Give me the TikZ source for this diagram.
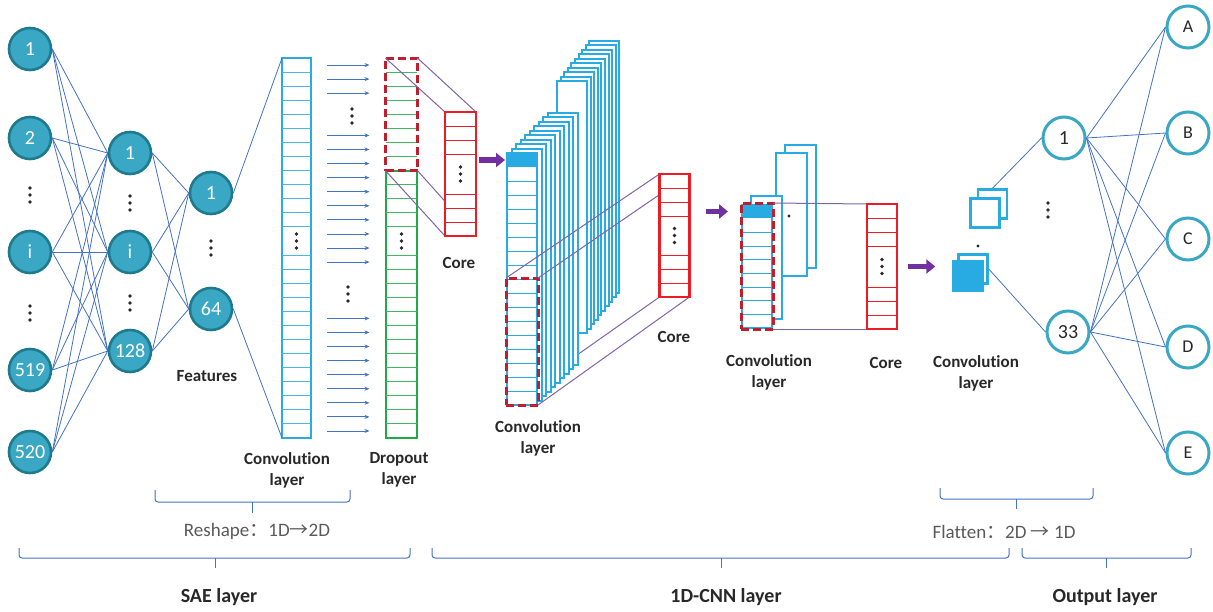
\documentclass[tikz,border=0pt]{standalone}
\usepackage{fontspec}
\setmainfont{Carlito}[Ligatures=NoCommon]
\newfontfamily\cjkfont{Noto Sans CJK SC}
\usepackage{xcolor}
\usepackage{tikz}
\usetikzlibrary{arrows.meta, positioning, calc}

\definecolor{saefill}{RGB}{58,168,196}
\definecolor{saeedge}{RGB}{30,122,140}
\definecolor{linkblue}{RGB}{68,114,196}
\definecolor{mapblue}{RGB}{40,170,226}
\definecolor{dropgreen}{RGB}{30,170,70}
\definecolor{corered}{RGB}{236,28,36}
\definecolor{cropred}{RGB}{190,30,45}
\definecolor{pushpurple}{RGB}{112,48,160}
\definecolor{projpurple}{RGB}{128,100,168}
\definecolor{txtgray}{RGB}{40,40,40}
\definecolor{notegray}{RGB}{90,90,90}

\pgfdeclarelayer{hidden}
\pgfdeclarelayer{lines}
\pgfdeclarelayer{top}
\pgfsetlayers{hidden,main,lines,top}

\begin{document}
\begin{tikzpicture}[
  x=1pt, y=-1pt,
  font=\fontsize{17}{21}\selectfont,
  saenode/.style={
    circle,
    draw=saeedge,
    fill=saefill,
    line width=2.6pt,
    minimum size=42pt,
    inner sep=0pt,
    text=white,
    font=\fontsize{20}{20}\selectfont
  },
  outnode/.style={
    circle,
    draw=saefill,
    fill=white,
    line width=3pt,
    minimum size=42pt,
    inner sep=0pt,
    text=txtgray,
    font=\fontsize{#1}{#1}\selectfont
  },
  outnode/.default=18,
  link/.style={draw=linkblue, line width=0.8pt},
  column/.style={
    rectangle,
    draw=#1,
    fill=white,
    line width=2pt,
    inner sep=0pt,
    outer sep=0pt
  },
  cell/.style={draw=#1, line width=0.9pt},
  crop/.style={
    rectangle,
    draw=cropred,
    line width=3pt,
    dash pattern=on 8pt off 4pt,
    inner sep=0pt,
    outer sep=0pt
  },
  core/.style={
    rectangle,
    draw=corered,
    fill=white,
    line width=2.6pt,
    minimum width=30pt,
    inner sep=0pt,
    outer sep=0pt
  },
  fmap/.style={draw=mapblue, fill=white, line width=2pt},
  sq/.style={
    rectangle,
    draw=mapblue,
    fill=white,
    line width=2.5pt,
    minimum size=29pt,
    inner sep=0pt
  },
  reshape/.style={
    draw=linkblue,
    line width=0.8pt,
    -{Stealth[length=5pt, width=4pt]}
  },
  proj/.style={draw=projpurple, line width=1pt},
  push/.style={
    draw=pushpurple,
    line width=5.5pt,
    -{Triangle[length=9pt, width=14pt]}
  },
  tag/.style={font=\bfseries\fontsize{17}{21}\selectfont, text=txtgray, align=center},
  note/.style={font=\fontsize{19}{22}\selectfont, text=notegray},
  group/.style={font=\bfseries\fontsize{20}{24}\selectfont, text=txtgray},
  bracket/.style={draw=linkblue, line width=1pt, rounded corners=3pt},
  vdots/.pic={\foreach \d in {-7,0,7} \fill[txtgray] (0,\d) circle (1.9);}
]
\useasboundingbox (0,0) rectangle (1213,611);

% --- SAE network -----------------------------------------------------

\node[saenode] (x1) at (30,49) {1};
\node[saenode] (x2) at (30,138) {2};
\node[saenode] (xi) at (30,252) {i};
\node[saenode] (x519) at (30,370) {519};
\node[saenode] (x520) at (30,452) {520};
\pic at (30,195) {vdots};
\pic at (30,313) {vdots};

\node[saenode] (h1) at (130,153) {1};
\node[saenode] (hi) at (130,252) {i};
\node[saenode] (h128) at (130,351) {128};
\pic at (130,203) {vdots};
\pic at (130,303) {vdots};

\node[saenode] (f1) at (211,193) {1};
\node[saenode] (f64) at (211,309) {64};
\pic at (211,248) {vdots};

\foreach \a in {x1,x2,xi,x519,x520}
  \foreach \b in {h1,hi,h128}
    \draw[link] (\a.east) -- (\b.west);
\foreach \a in {h1,hi,h128}
  \foreach \b in {f1,f64}
    \draw[link] (\a.east) -- (\b.west);

\node[tag] (featlab) at (207,376) {Features};

% --- Reshape: convolution and dropout columns ------------------------

\node[column=mapblue, minimum width=29pt, minimum height=380pt] (conv) at (296.5,248) {};
\foreach \k in {1,...,26} {
  \ifnum\k=13\else
    \draw[cell=mapblue!85] ([yshift=-\k*14.074pt]conv.north west) -- ([yshift=-\k*14.074pt]conv.north east);
  \fi
}
\pic at ([yshift=7pt]conv.center) {vdots};

\draw[link] (f1.east) -- (conv.north west);
\draw[link] (f64.east) -- (conv.south west);

\node[column=dropgreen, minimum width=31pt, minimum height=267.4pt, anchor=north] (drop) at (401.5,170.6) {};
\foreach \k in {1,...,18} {
  \ifnum\k=5\else
    \draw[cell=dropgreen!85] ([yshift=-\k*14.074pt]drop.north west) -- ([yshift=-\k*14.074pt]drop.north east);
  \fi
}
\foreach \k in {1,...,7}
  \draw[cell=dropgreen!85] ([yshift=\k*14.074pt]drop.north west) -- ([yshift=\k*14.074pt]drop.north east);
\pic at ([yshift=-70.4pt]drop.north) {vdots};

\node[crop, minimum width=32pt, minimum height=112.6pt, anchor=north] (crop1) at (401.5,58) {};

\foreach \k in {0,1,2,5,6,...,14,18,19,...,26}
  \draw[reshape] ([xshift=16pt, yshift={-(\k+0.5)*14.074pt}]conv.north east)
    -- ([xshift=-16pt, yshift={-(\k+0.5)*14.074pt}]crop1.north west);
\pic at (352,116) {vdots};
\pic at (348,294) {vdots};

\node[tag] (convlab1) at (287,470) {Convolution\\layer};
\node[tag] (droplab) at (399,470) {Dropout\\layer};

% --- First convolution stack -----------------------------------------

\foreach \j in {9,...,1}
  \filldraw[fmap] ({557+3.6*\j},{81-4.5*\j}) rectangle ++(30,252);
\filldraw[fmap] (557,81) rectangle ++(30,252);
\fill[txtgray] (577,205) circle (1.6);
\foreach \k in {9,...,1}
  \filldraw[fmap] ({507+4.5*\k},{153-4.5*\k}) rectangle ++(30,252);

\node[column=mapblue, minimum width=30pt, minimum height=252pt, anchor=north west] (map1) at (507,153) {};
\node[fill=mapblue, minimum width=30pt, minimum height=14pt, inner sep=0pt, outer sep=0pt, anchor=north west] (cell1) at (map1.north west) {};
\foreach \k in {2,...,17}
  \draw[cell=mapblue] ([yshift=-\k*14pt]map1.north west) -- ([yshift=-\k*14pt]map1.north east);
\node[crop, minimum width=32pt, minimum height=127pt, anchor=south] (box1) at (map1.south) {};

\node[tag] (convlab2) at (538,438) {Convolution\\layer};

% --- Second convolution stack ----------------------------------------

\filldraw[fmap] (785,145) rectangle ++(31,123);
\filldraw[fmap] (776,153) rectangle ++(31,123);
\fill[txtgray] (789,216) circle (1.6);
\filldraw[fmap] (751,196) rectangle ++(31,123);

\node[column=mapblue, minimum width=30pt, minimum height=123pt, anchor=north west] (map2) at (742,205) {};
\node[fill=mapblue, minimum width=30pt, minimum height=13pt, inner sep=0pt, outer sep=0pt, anchor=north west] (cell2) at (map2.north west) {};
\foreach \k in {2,...,8}
  \draw[cell=mapblue] ([yshift=-\k*13.67pt]map2.north west) -- ([yshift=-\k*13.67pt]map2.north east);
\node[crop, minimum width=32pt, minimum height=126pt] (box2) at (757,266) {};

\node[tag] (convlab3) at (769,372) {Convolution\\layer};

% --- Cores -----------------------------------------------------------

\begin{pgfonlayer}{top}
\node[core, minimum width=31pt, minimum height=124pt] (core1) at (460.5,174) {};
\node[core, minimum height=123pt] (core2) at (674.5,235.5) {};
\node[core, minimum height=125pt] (core3) at (882,266.5) {};
\foreach \c in {core1,core2,core3} {
  \foreach \k in {1,2,3} {
    \draw[cell=corered] ([yshift=-\k*14pt]\c.north west) -- ([yshift=-\k*14pt]\c.north east);
    \draw[cell=corered] ([yshift=\k*14pt]\c.south west) -- ([yshift=\k*14pt]\c.south east);
  }
  \pic at (\c) {vdots};
}
\end{pgfonlayer}

\node[tag] (corelab1) at (459,263) {Core};
\node[tag] (corelab2) at (674,337) {Core};
\node[tag] (corelab3) at (886,363) {Core};

% Projections from the cropped windows onto the cores
\begin{pgfonlayer}{lines}
\draw[proj] (crop1.north west) -- (core1.north west);
\draw[proj] (crop1.north east) -- (core1.north east);
\draw[proj] (crop1.south west) -- (core1.south west);
\draw[proj] (crop1.south east) -- (core1.south east);
\draw[proj] (box1.north west) -- (core2.north west);
\draw[proj] (box1.north east) -- (core2.north east);
\draw[proj] (box1.south east) -- (core2.south east);
\draw[proj] (box2.north east) -- (core3.north west);
\draw[proj] (box2.south east) -- (core3.south west);
\end{pgfonlayer}
\begin{pgfonlayer}{hidden}
\draw[proj] (box1.south west) -- (core2.south west);
\end{pgfonlayer}

% --- Flatten ---------------------------------------------------------

\node[sq] (sq1) at (992.5,204) {};
\node[sq] (sq2) at (985,213) {};
\fill[txtgray] (978,246) circle (1.6);
\node[sq] (sq3) at (973,269) {};
\node[sq, fill=mapblue] (sq4) at (968,276) {};

\node[tag] (convlab4) at (976,373) {Convolution\\layer};

\draw[push, shorten <=3pt, shorten >=2pt] (core1.east |- cell1) -- (cell1.west);
\draw[push, shorten <=16pt, shorten >=14pt] (core2.east |- cell2) -- (cell2.west);
\draw[push, shorten <=11pt, shorten >=17pt] (core3.east) -- (core3.east -| sq4.west);

% --- Output network --------------------------------------------------

\node[outnode=20] (o1) at (1064,138) {1};
\node[outnode=20] (o33) at (1068,332) {33};
\pic at (1048,210) {vdots};

\foreach \n/\y in {A/27,B/133,C/239,D/347,E/453}
  \node[outnode] (out\n) at (1188,\y) {\n};

\draw[link] (sq1.north) -- (o1.west);
\draw[link] (sq3.east) -- (o33.west);
\foreach \n in {A,B,C,D,E} {
  \draw[link] (o1.east) -- (out\n.west);
  \draw[link] (o33.east) -- (out\n.west);
}

% --- Braces and group names ------------------------------------------

\draw[bracket] (155,490) -- (155,502) -- (350,502) -- (350,490);
\draw[bracket] (252.5,502) -- (252.5,513);
\draw[bracket] (940,488) -- (940,499) -- (1093,499) -- (1093,488);
\draw[bracket] (1016,499) -- (1016,509);

\draw[bracket] (19,548) -- (19,558) -- (410,558) -- (410,548);
\draw[bracket] (215,558) -- (215,568);
\draw[bracket] (432,548) -- (432,558) -- (1009,558) -- (1009,548);
\draw[bracket] (721,558) -- (721,568);
\draw[bracket] (1022,548) -- (1022,558) -- (1191,558) -- (1191,548);
\draw[bracket] (1106,558) -- (1106,568);

\node[note] (reshapetxt) at (257,531) {Reshape{\cjkfont ：}1D{\cjkfont →}2D};
\node[note] (flattentxt) at (1004,532) {Flatten{\cjkfont ：}2D {\cjkfont →} 1D};

\node[group] (saetxt) at (219,597) {SAE layer};
\node[group] (cnntxt) at (726,597) {1D-CNN layer};
\node[group] (outtxt) at (1105,597) {Output layer};

\end{tikzpicture}
\end{document}
